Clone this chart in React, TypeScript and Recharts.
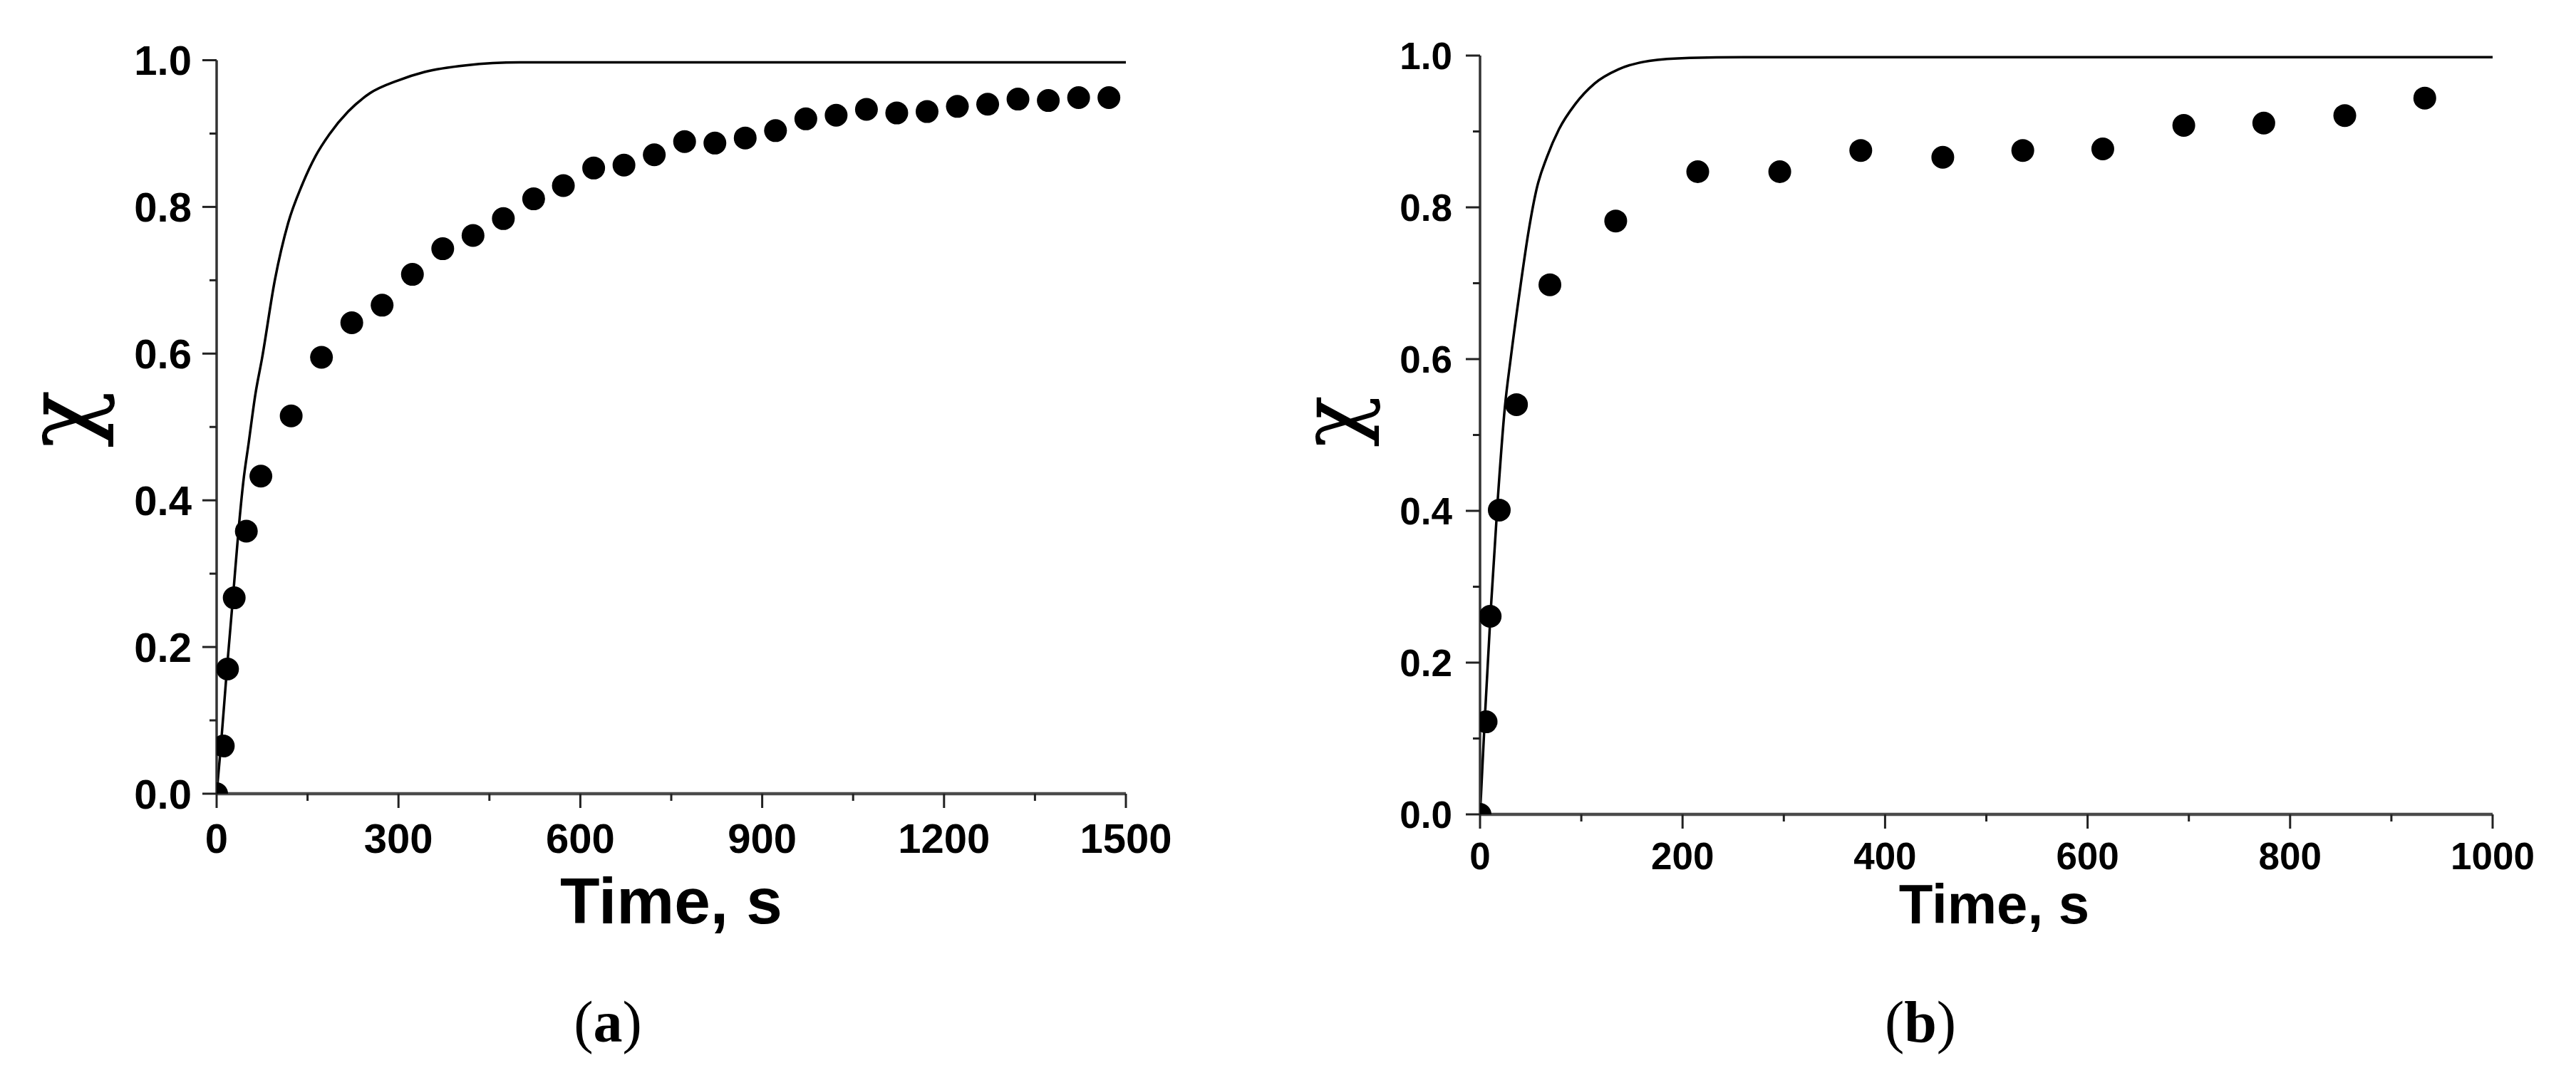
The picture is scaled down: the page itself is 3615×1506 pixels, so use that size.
import { ComposedChart, Line, Scatter, XAxis, YAxis } from 'recharts';

// (a) measured points
const timeA = [0, 11, 18, 29, 49, 73, 123, 173, 223, 273, 323, 373, 423, 473, 523, 572, 622, 672, 722, 772, 822, 872, 922, 972, 1022, 1072, 1122, 1172, 1222, 1272, 1322, 1372, 1422, 1472];
const chiA = [0, 0.065, 0.17, 0.267, 0.358, 0.433, 0.515, 0.595, 0.642, 0.666, 0.708, 0.743, 0.761, 0.784, 0.811, 0.829, 0.853, 0.857, 0.871, 0.889, 0.887, 0.894, 0.904, 0.92, 0.925, 0.933, 0.928, 0.93, 0.937, 0.94, 0.947, 0.945, 0.949, 0.949];
// (a) model curve
const fitTimeA = [0, 7, 17, 27, 36, 44, 53, 64, 75, 96, 118, 141, 163, 186, 217, 253, 298, 343, 411, 500, 650, 900, 1200, 1500];
const fitChiA = [0, 0.065, 0.17, 0.268, 0.358, 0.425, 0.479, 0.545, 0.594, 0.7, 0.778, 0.83, 0.869, 0.899, 0.93, 0.955, 0.972, 0.984, 0.993, 0.997, 0.997, 0.997, 0.997, 0.997];

// (b) measured points
const timeB = [0, 6, 10, 19, 36, 69, 134, 215, 296, 376, 457, 536, 615, 695, 774, 854, 933];
const chiB = [0, 0.122, 0.261, 0.401, 0.54, 0.698, 0.782, 0.847, 0.847, 0.875, 0.866, 0.875, 0.877, 0.908, 0.911, 0.921, 0.944];
// (b) model curve
const fitTimeB = [0, 4.5, 10.3, 17.4, 24.4, 30.5, 40, 48, 56, 66, 78, 94, 113, 137, 167, 207, 260, 400, 600, 800, 1000];
const fitChiB = [0, 0.121, 0.263, 0.413, 0.535, 0.603, 0.697, 0.769, 0.825, 0.866, 0.903, 0.936, 0.963, 0.982, 0.993, 0.997, 0.998, 0.998, 0.998, 0.998, 0.998];

// ticks
const xTicksA = [0, 150, 300, 450, 600, 750, 900, 1050, 1200, 1350, 1500];
const xLabelsA = [0, 300, 600, 900, 1200, 1500];
const xTicksB = [0, 100, 200, 300, 400, 500, 600, 700, 800, 900, 1000];
const xLabelsB = [0, 200, 400, 600, 800, 1000];
const yTicks = [0, 0.1, 0.2, 0.3, 0.4, 0.5, 0.6, 0.7, 0.8, 0.9, 1];
const yLabels = [0, 0.2, 0.4, 0.6, 0.8, 1];

const zip = (ts: number[], vs: number[]) => ts.map((t, i) => ({ t, v: vs[i] }));

const SANS = '"Liberation Sans", Arial, sans-serif';
const SERIF = '"Liberation Serif", "Times New Roman", serif';

function Tick(props: any) {
  const { x, y, payload, orient, labels, size, gap } = props;
  const major = labels.includes(payload.value);
  const len = major ? 20 : 10;
  if (orient === 'left') {
    return (
      <g>
        <line x1={x} x2={x - len} y1={y} y2={y} stroke="#222" strokeWidth={3} />
        {major && (
          <text x={x - gap} y={y + size * 0.36} textAnchor="end" fontSize={size} fontWeight="bold" fontFamily={SANS} fill="#000">
            {payload.value.toFixed(1)}
          </text>
        )}
      </g>
    );
  }
  return (
    <g>
      <line x1={x} x2={x} y1={y} y2={y + len} stroke="#222" strokeWidth={3} />
      {major && (
        <text x={x} y={y + gap} textAnchor="middle" fontSize={size} fontWeight="bold" fontFamily={SANS} fill="#000">
          {payload.value}
        </text>
      )}
    </g>
  );
}

const Dot = (p: any) => <circle cx={p.cx} cy={p.cy} r={16} fill="#000" />;

function Panel(props: any) {
  const { left, width, plotLeft, plotRight, plotTop, plotBottom, dots, fit, xMax, xTicks, xLabels, tickSize, yGap, xGap, title, chi, tag } = props;
  return (
    <div style={{ position: 'absolute', left, top: 0 }}>
      <ComposedChart
        width={width}
        height={1506}
        margin={{ top: plotTop, left: plotLeft - 200, right: width - plotRight, bottom: 1506 - plotBottom - 200 }}
      >
        <XAxis
          type="number"
          dataKey="t"
          domain={[0, xMax]}
          ticks={xTicks}
          interval={0}
          allowDataOverflow
          height={200}
          tickSize={0}
          tickMargin={0}
          tickLine={false}
          axisLine={{ stroke: '#4a4a4a', strokeWidth: 4.5 }}
          tick={(p: any) => <Tick {...p} orient="bottom" labels={xLabels} size={tickSize} gap={xGap} />}
          label={(p: any) => {
            const vb = p.viewBox;
            return (
              <text x={vb.x + vb.width / 2 + title.dx} y={vb.y + title.dy} textAnchor="middle" fontSize={title.size} fontWeight="bold" fontFamily={SANS} fill="#000">
                Time, s
              </text>
            );
          }}
        />
        <YAxis
          type="number"
          dataKey="v"
          domain={[0, 1]}
          ticks={yTicks}
          interval={0}
          allowDataOverflow
          width={200}
          tickSize={0}
          tickMargin={0}
          tickLine={false}
          axisLine={{ stroke: '#333', strokeWidth: 3.5 }}
          tick={(p: any) => <Tick {...p} orient="left" labels={yLabels} size={tickSize} gap={yGap} />}
          label={(p: any) => {
            const vb = p.viewBox;
            const cx = vb.x + vb.width + chi.dx;
            const cy = vb.y + vb.height / 2 + chi.dy;
            const ax = cx + chi.size * 0.155;
            return (
              <text x={ax} y={cy} transform={`rotate(-90 ${ax} ${cy})`} textAnchor="middle" fontSize={chi.size} fontFamily='"DejaVu Serif", serif' fill="#000">
                χ
              </text>
            );
          }}
        />
        <Line data={fit} dataKey="v" type="monotone" stroke="#000" strokeWidth={3.5} dot={false} isAnimationActive={false} />
        <Scatter data={dots} dataKey="v" fill="#000" shape={Dot} isAnimationActive={false} />
      </ComposedChart>
      <div
        style={{
          position: 'absolute',
          left: tag.x - 100,
          top: 1394,
          width: 200,
          textAlign: 'center',
          fontFamily: SERIF,
          fontSize: 82,
          lineHeight: '82px',
          color: '#000',
        }}
      >
        (<b>{tag.text}</b>)
      </div>
    </div>
  );
}

export default function App() {
  return (
    <div style={{ position: 'absolute', left: 0, top: 0, width: 3615, height: 1506, background: '#fff' }}>
      <Panel
        left={0}
        width={1800}
        plotLeft={304}
        plotRight={1580}
        plotTop={84.5}
        plotBottom={1114}
        dots={zip(timeA, chiA)}
        fit={zip(fitTimeA, fitChiA)}
        xMax={1500}
        xTicks={xTicksA}
        xLabels={xLabelsA}
        tickSize={58}
        yGap={35}
        xGap={83}
        title={{ size: 91, dx: 0, dy: 182 }}
        chi={{ size: 134, dx: -194, dy: -11 }}
        tag={{ x: 853, text: 'a' }}
      />
      <Panel
        left={1800}
        width={1815}
        plotLeft={277}
        plotRight={1698}
        plotTop={78}
        plotBottom={1143}
        dots={zip(timeB, chiB)}
        fit={zip(fitTimeB, fitChiB)}
        xMax={1000}
        xTicks={xTicksB}
        xLabels={xLabelsB}
        tickSize={53}
        yGap={39}
        xGap={77}
        title={{ size: 78, dx: 11, dy: 153 }}
        chi={{ size: 120, dx: -186, dy: -19 }}
        tag={{ x: 895, text: 'b' }}
      />
    </div>
  );
}
